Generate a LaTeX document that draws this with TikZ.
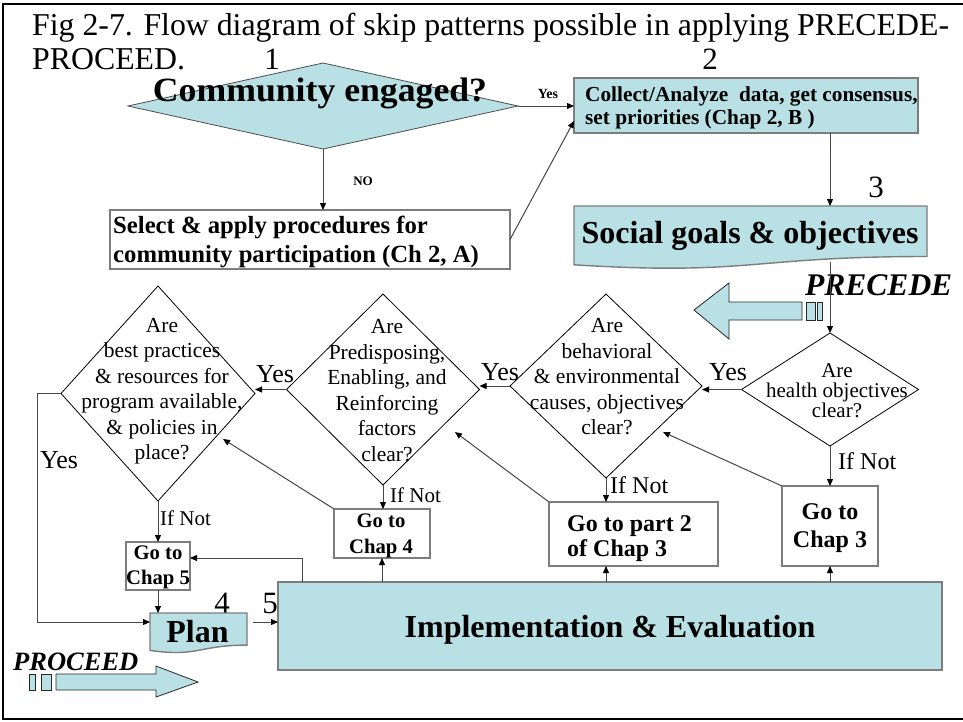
\documentclass[tikz,border=0pt]{standalone}
\usepackage{fontspec}
\setmainfont{Liberation Serif}
\usetikzlibrary{arrows.meta,calc,shapes.geometric}
\definecolor{lb}{RGB}{185,224,228}
\definecolor{linec}{RGB}{70,70,70}
\definecolor{boxc}{RGB}{125,125,125}
\newcommand{\setfs}[2]{\fontsize{#1}{#2}\selectfont}
\begin{document}
\begin{tikzpicture}[x=1pt,y=-1pt,
  arr/.style={draw=linec, line width=1pt, -{Triangle[length=7pt,width=6pt,color=black]}},
  ln/.style={draw=linec, line width=1pt},
  boxshape/.style={draw=boxc, line width=1.4pt, inner sep=0pt, outer sep=0pt},
  docshape/.style={draw=boxc, line width=1.4pt, fill=lb},
  holder/.style={inner sep=0pt, outer sep=0pt},
  dia/.style={diamond, draw=black, line width=0.8pt, fill=white, inner sep=0pt, outer sep=0pt},
  dtext/.style={align=center, inner sep=0pt, font=\setfs{21.5}{25.5}},
  btext/.style={inner sep=0pt, font=\bfseries\setfs{20.7}{25}},
  lbl/.style={inner sep=0pt, anchor=base, font=\setfs{31}{36}},
  yes/.style={inner sep=0pt, anchor=base, font=\setfs{26}{30}},
  ifnot/.style={inner sep=0pt, anchor=base west},
  blockarrow/.style={draw=black!85, line width=0.8pt, fill=lb}]
\useasboundingbox (0,0) rectangle (963,721);
% frame
\draw[line width=2pt] (968,4) -- (3,4) -- (3,719) -- (968,719);
% title
\node[inner sep=0pt, anchor=base west, font=\setfs{31.8}{36}] (t1) at (32,35) {Fig 2-7. Flow diagram of skip patterns possible in applying PRECEDE-};
\node[inner sep=0pt, anchor=base west, font=\setfs{31.8}{36}] (t2) at (32,69) {PROCEED.};
% numbers
\node[lbl] (n1) at (272,69) {1};
\node[lbl] (n2) at (710,69) {2};
\node[lbl] (n3) at (876,197) {3};
\node[lbl] (n4) at (222,613) {4};
\node[lbl] (n5) at (270,613) {5};
% community engaged
\node[dia, draw=black!70, fill=lb, minimum width=390pt, minimum height=86pt] (d0) at (323,106) {};
\node[inner sep=0pt, anchor=base, font=\bfseries\setfs{34}{38}] (d0t) at (320,101) {\scalebox{1.05}[1]{Community engaged?}};
% box 2
\node[boxshape, fill=lb, minimum width=344pt, minimum height=55pt] (b2) at (746,105.5) {};
\node[inner sep=0pt, anchor=west, align=left, font=\bfseries\setfs{21.3}{23}] (b2t) at (585,108) {Collect/Analyze\ \ data, get consensus,\\set priorities (Chap 2, B )};
% select box
\node[boxshape, fill=white, minimum width=400pt, minimum height=59pt] (sel) at (310,239.5) {};
\node[inner sep=0pt, anchor=west, align=left, font=\bfseries\setfs{24.7}{29}] (selt) at (113,241.5) {Select \& apply procedures for\\community participation (Ch 2, A)};
% social goals document
\node[holder, minimum width=353pt, minimum height=63pt, anchor=north west] (sg) at (574,206) {};
\path[docshape] (sg.north west) -- (sg.north east) -- ($(sg.north east)+(0,50.5)$) .. controls ($(sg.north)+(0,50.5)$) and ($(sg.north)+(0,69.8)$) .. ($(sg.north west)+(0,58.8)$) -- cycle;
\node[inner sep=0pt, anchor=base, font=\bfseries\setfs{32}{36}] (sgt) at (750,243) {Social goals \& objectives};
% PRECEDE arrow
\path[blockarrow] (694,310) -- (729,283) -- (729,302) -- (802,302) -- (802,320) -- (729,320) -- (729,339) -- cycle;
\path[blockarrow] (806,302) rectangle (815,320);
\path[blockarrow] (817,302) rectangle (822,320);
\node[inner sep=0pt, anchor=base west, font=\bfseries\itshape\setfs{31.5}{36}] (prec) at (805,295) {PRECEDE};
% diamonds
\node[dia, minimum width=177pt, minimum height=113pt] (hd) at (830,389.5) {};
\node[dtext, font=\setfs{21}{20}] (hdt) at (837,390.5) {Are\\health objectives\\clear?};
\node[dia, minimum width=192pt, minimum height=184pt] (d3) at (606,386) {};
\node[dtext] (d3t) at (607,377) {Are\\behavioral\\\& environmental\\causes, objectives\\clear?};
\node[dia, minimum width=193pt, minimum height=191pt] (d2) at (383,389.5) {};
\node[dtext] (d2t) at (387,390.5) {Are\\Predisposing,\\Enabling, and\\Reinforcing\\factors\\clear?};
\node[dia, minimum width=194pt, minimum height=215pt] (d1) at (158,393.5) {};
\node[dtext] (d1t) at (162,391) {Are\\best practices\\\& resources for\\program available,\\\& policies in\\place?};
% small boxes
\node[boxshape, fill=white, minimum width=64pt, minimum height=48pt] (c5) at (158,566) {};
\node[btext, align=center] (c5t) at (158,567.5) {Go to\\Chap 5};
\node[boxshape, fill=white, minimum width=96pt, minimum height=49pt] (c4) at (382,533.5) {};
\node[btext, align=center, font=\bfseries\setfs{20.7}{26}] (c4t) at (381,536) {Go to\\Chap 4};
\node[boxshape, fill=white, minimum width=169pt, minimum height=64pt] (p2) at (633.5,534) {};
\node[btext, anchor=west, align=left, font=\bfseries\setfs{24}{25}] (p2t) at (567,538.5) {Go to part 2\\of Chap 3};
\node[boxshape, fill=white, minimum width=96pt, minimum height=80pt] (c3) at (830,526) {};
\node[btext, align=center, font=\bfseries\setfs{24}{28}] (c3t) at (830,528) {Go to\\Chap 3};
% plan document
\node[holder, minimum width=97pt, minimum height=40pt, anchor=north west] (plan) at (150,613) {};
\path[docshape] (plan.north west) -- (plan.north east) -- ($(plan.north east)+(0,32.1)$) .. controls ($(plan.north)+(0,32.1)$) and ($(plan.north)+(0,44.3)$) .. ($(plan.north west)+(0,37.4)$) -- cycle;
\node[inner sep=0pt, anchor=base, font=\bfseries\setfs{32}{36}] (plant) at (197.5,642) {Plan};
% implementation
\node[boxshape, fill=lb, minimum width=664pt, minimum height=88pt] (impl) at (610,626) {};
\node[inner sep=0pt, anchor=base, font=\bfseries\setfs{32}{36}] (implt) at (610,637) {Implementation \& Evaluation};
% PROCEED arrow
\path[blockarrow] (56,674) -- (156,674) -- (156,666) -- (198,682) -- (156,697) -- (156,690) -- (56,690) -- cycle;
\path[blockarrow] (29,674) rectangle (35,690);
\path[blockarrow] (41,674) rectangle (51,690);
\node[inner sep=0pt, anchor=base west, font=\bfseries\itshape\setfs{26.5}{30}] (proc) at (13,670) {PROCEED};
% labels
\node[inner sep=0pt, anchor=base, font=\bfseries\setfs{14}{16}] (y0) at (548,98) {Yes};
\node[inner sep=0pt, anchor=base, font=\bfseries\setfs{13}{15}] (no0) at (363,185) {NO};
\node[yes] (y1) at (728,380) {Yes};
\node[yes] (y2) at (500,380) {Yes};
\node[yes] (y3) at (275,382) {Yes};
\node[yes] (y4) at (59,468) {Yes};
\node[ifnot, font=\setfs{21}{24}] (in1) at (160,525) {If Not};
\node[ifnot, font=\setfs{21}{24}] (in2) at (390,502) {If Not};
\node[ifnot, font=\setfs{24}{28}] (in3) at (610,493) {If Not};
\node[ifnot, font=\setfs{24}{28}] (in4) at (838,469) {If Not};
% connectors
\coordinate (b2in) at ($(b2.south west)+(0,-12)$);
\draw[arr] (d0.east) -- (d0.east -| b2.west);
\draw[arr] (d0.south) -- (d0.south |- sel.north);
\draw[arr] (sel.east) -- (b2in);
\draw[arr] (b2.south -| hd.north) -- (sg.north -| hd.north);
\coordinate (sgb) at (830,262);
\draw[arr] (sgb) -- (hd.north);
\draw[arr] (hd.west) -- (hd.west -| d3.east);
\draw[arr] (d3.west) -- (d3.west -| d2.east);
\draw[arr] (d2.west) -- (d2.west -| d1.east);
\draw[arr] (hd.south) -- (c3.north);
\draw[arr] (d3.south) -- (d3.south |- p2.north);
\draw[arr] (d2.south) -- (d2.south |- c4.north);
\draw[arr] (d1.south) -- (c5.north);
\coordinate (e1) at (223,439);
\coordinate (e2) at (455,432);
\coordinate (e3) at (663,432);
\draw[arr] (c4.north west) -- (e1);
\draw[arr] (p2.north west) -- (e2);
\draw[arr] (c3.north west) -- (e3);
\draw[arr] (c5.south) -- (c5.south |- plan.north);
\coordinate (pl1) at ($(plan.north east)+(6,9)$);
\draw[arr] (pl1) -- (pl1 -| impl.west);
\draw[arr] (d1.west) -- ++(-24,0) |- (pl1 -| plan.west);
\coordinate (j1) at (302,558);
\draw[arr] (impl.north -| j1) -- (j1) -- (j1 -| c5.east);
\draw[arr] (impl.north -| c4.south) -- (c4.south);
\draw[arr] (impl.north -| d3.south) -- (d3.south |- p2.south);
\draw[arr] (impl.north -| c3.south) -- (c3.south);
\end{tikzpicture}
\end{document}
